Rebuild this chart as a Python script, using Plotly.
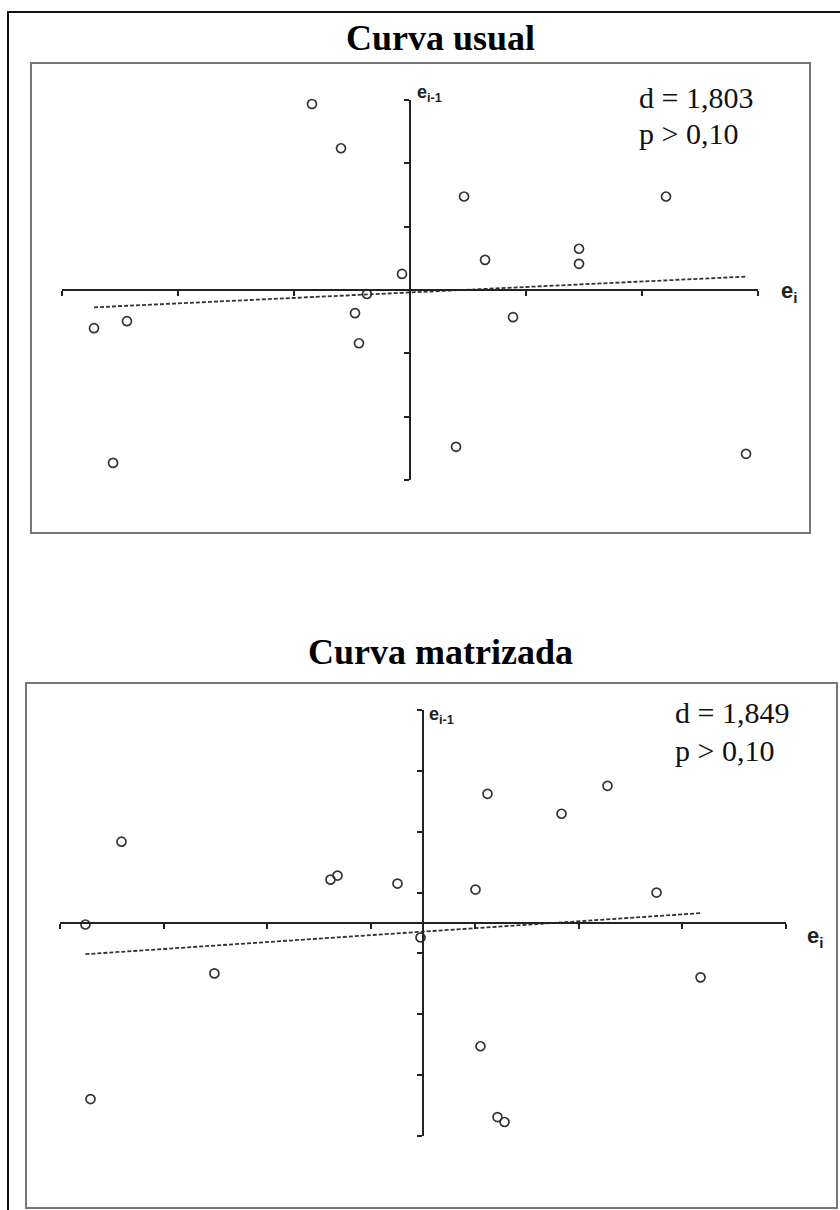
import numpy as np
import plotly.graph_objects as go

W, H = 840, 1210

# Residuals e_i (x) against e_{i-1} (y), standard curve
usual_ei = [-0.845, -0.595, 0.466, 2.207, 1.457, 0.647, 1.457, -0.069, -0.371,
            -2.440, -2.724, -0.474, 0.888, -0.440, 0.397, 2.897, -2.560]
usual_ei1 = [2.937, 2.238, 1.476, 1.476, 0.651, 0.476, 0.413, 0.254, -0.063,
             -0.492, -0.603, -0.365, -0.429, -0.841, -2.476, -2.587, -2.730]

# Residuals for the matrix-matched curve
matrix_ei = [-3.255, -3.206, -2.907, -2.011, -0.892, -0.824, -0.246, -0.024, 0.506,
             0.622, 1.336, 1.779, 2.252, 2.676, 0.554, 0.718, 0.786]
matrix_ei1 = [-0.025, -2.893, 1.336, -0.828, 0.713, 0.779, 0.648, -0.238, 0.549,
              2.123, 1.795, 2.254, 0.500, -0.893, -2.025, -3.189, -3.270]

titles = ["Curva usual", "Curva matrizada"]
dw_labels = ["d = 1,803", "d = 1,849"]
p_labels = ["p > 0,10", "p > 0,10"]

usual_range = [-3, 3]
matrix_range = [-3.5, 3.5]

AX = "#222222"


def px_x(v):
    return v / W


def px_y(v):
    return 1 - v / H


fig = go.Figure()

panels = [
    dict(x=usual_ei, y=usual_ei1, rng=usual_range, xa="x", ya="y",
         xdom=[px_x(62), px_x(758)], ydom=[px_y(480), px_y(100)]),
    dict(x=matrix_ei, y=matrix_ei1, rng=matrix_range, xa="x2", ya="y2",
         xdom=[px_x(60), px_x(786)], ydom=[px_y(1136), px_y(710)]),
]

for i, p in enumerate(panels):
    x = np.array(p["x"])
    y = np.array(p["y"])
    slope, icpt = np.polyfit(x, y, 1)
    xl = np.array([x.min(), x.max()])
    fig.add_trace(go.Scatter(
        x=xl, y=slope * xl + icpt, mode="lines", xaxis=p["xa"], yaxis=p["ya"],
        line=dict(color="#333333", width=1.8, dash="4px,2px"),
        hoverinfo="skip", showlegend=False, cliponaxis=False))
    fig.add_trace(go.Scatter(
        x=x, y=y, mode="markers", xaxis=p["xa"], yaxis=p["ya"],
        marker=dict(symbol="circle-open", size=9, color="#333333",
                    line=dict(width=1.7, color="#333333")),
        showlegend=False, cliponaxis=False))

    r0, r1 = p["rng"]
    # axes cross at zero: place each axis line at the other axis' zero
    ypos = p["ydom"][0] + (0 - r0) / (r1 - r0) * (p["ydom"][1] - p["ydom"][0])
    xpos = p["xdom"][0] + (0 - r0) / (r1 - r0) * (p["xdom"][1] - p["xdom"][0])
    axcommon = dict(range=[r0, r1], tickmode="linear", tick0=r0, dtick=1,
                    showgrid=False, zeroline=False, showline=True,
                    linecolor=AX, linewidth=1.8, ticks="outside", ticklen=5,
                    tickwidth=1.5, tickcolor=AX, showticklabels=False,
                    fixedrange=True)
    suffix = "" if i == 0 else "2"
    fig.update_layout(**{
        "xaxis" + suffix: dict(domain=p["xdom"], anchor="free", position=ypos,
                               side="bottom", **axcommon),
        "yaxis" + suffix: dict(domain=p["ydom"], anchor="free", position=xpos,
                               side="left", **axcommon),
    })

shapes = [
    # outer frame
    dict(type="rect", xref="paper", yref="paper", x0=px_x(8), y0=px_y(1230),
         x1=px_x(860), y1=px_y(12), line=dict(color="#111111", width=2)),
    # panel boxes
    dict(type="rect", xref="paper", yref="paper", x0=px_x(31), y0=px_y(533),
         x1=px_x(810), y1=px_y(63), line=dict(color="#777777", width=2)),
    dict(type="rect", xref="paper", yref="paper", x0=px_x(26), y0=px_y(1208),
         x1=px_x(837), y1=px_y(683), line=dict(color="#777777", width=2)),
]

serif = "Liberation Serif, Times New Roman, serif"
sans = "Liberation Sans, Arial, sans-serif"

ann = []
for title, ty in zip(titles, [38, 652]):
    ann.append(dict(text="<b>" + title + "</b>", x=px_x(440), y=px_y(ty),
                    xref="paper", yref="paper", xanchor="center", yanchor="middle",
                    showarrow=False, font=dict(family=serif, size=36, color="#000")))

for dl, pl, tx, dy, py in zip(dw_labels, p_labels, [637, 673], [97, 712], [134, 750]):
    ann.append(dict(text=dl, x=px_x(tx), y=px_y(dy), xref="paper", yref="paper",
                    xanchor="left", yanchor="middle", showarrow=False,
                    font=dict(family=serif, size=30, color="#111")))
    ann.append(dict(text=pl, x=px_x(tx), y=px_y(py), xref="paper", yref="paper",
                    xanchor="left", yanchor="middle", showarrow=False,
                    font=dict(family=serif, size=30, color="#111")))

# axis names
for lx, ly, sz in [(415, 93, 18), (427, 715, 18)]:
    ann.append(dict(text="<b>e</b><sub><b>i-1</b></sub>", x=px_x(lx), y=px_y(ly),
                    xref="paper", yref="paper", xanchor="left", yanchor="middle",
                    showarrow=False, font=dict(family=sans, size=sz, color="#222")))
for lx, ly, sz in [(779, 292, 22), (805, 937, 22)]:
    ann.append(dict(text="<b>e</b><sub><b>i</b></sub>", x=px_x(lx), y=px_y(ly),
                    xref="paper", yref="paper", xanchor="left", yanchor="middle",
                    showarrow=False, font=dict(family=sans, size=sz, color="#222")))

fig.update_layout(width=W, height=H, margin=dict(l=0, r=0, t=0, b=0),
                  paper_bgcolor="white", plot_bgcolor="rgba(0,0,0,0)",
                  shapes=shapes, annotations=ann, showlegend=False)

fig.write_html("out.html")
